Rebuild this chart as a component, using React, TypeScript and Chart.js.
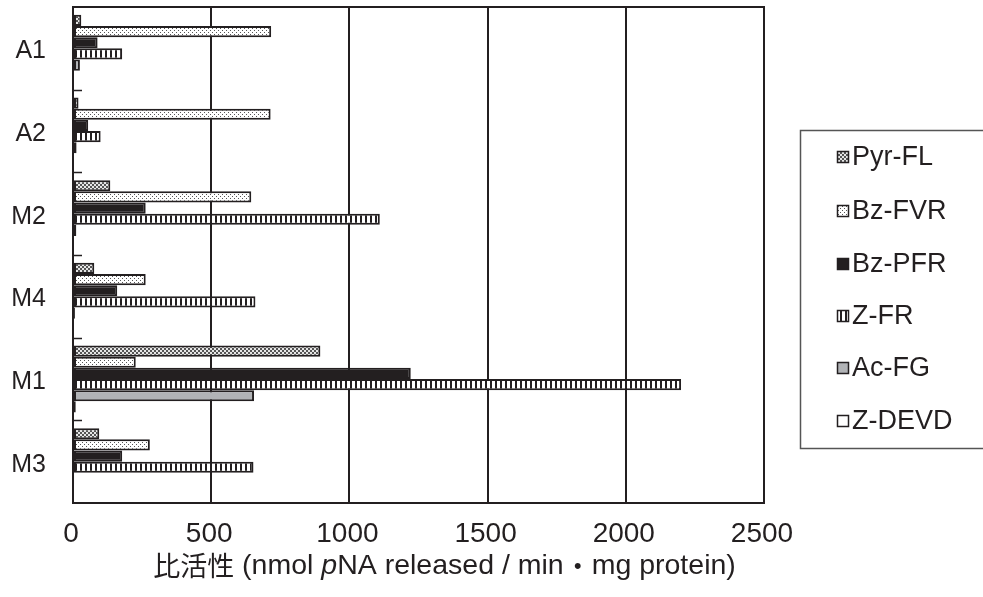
import React, { useEffect, useRef } from "react";
import { Chart, registerables } from "chart.js";

Chart.register(...registerables);

const categories = ["A1", "A2", "M2", "M4", "M1", "M3"];
const seriesNames = ["Pyr-FL", "Bz-FVR", "Bz-PFR", "Z-FR", "Ac-FG", "Z-DEVD"];
const pyrFL = [30, 20, 135, 77, 895, 95];
const bzFVR = [717, 715, 645, 263, 227, 278];
const bzPFR = [89, 55, 263, 160, 1222, 178];
const zFR = [178, 100, 1110, 660, 2200, 653];
const acFG = [25, 13, 12, 7, 655, 4];
const zDEVD = [0, 0, 0, 0, 10, 0];
const xTickValues = [0, 500, 1000, 1500, 2000, 2500];

const INK = "#231f20";
const LATIN = "Arial, 'Liberation Sans', Helvetica, sans-serif";
const CJK = "'Noto Sans CJK JP', 'Noto Sans CJK SC', sans-serif";

function makeTile(kind: string): HTMLCanvasElement {
  const c = document.createElement("canvas");
  const g = c.getContext("2d") as CanvasRenderingContext2D;
  if (kind === "dense") {
    c.width = 4; c.height = 4;
    g.fillStyle = "#e6e6e6"; g.fillRect(0, 0, 4, 4);
    g.fillStyle = "#555555"; g.fillRect(0, 0, 2, 2); g.fillRect(2, 2, 2, 2);
  } else if (kind === "sparse") {
    c.width = 4; c.height = 4;
    g.fillStyle = "#ffffff"; g.fillRect(0, 0, 4, 4);
    g.fillStyle = "#555555"; g.fillRect(0, 0, 1, 1); g.fillRect(2, 2, 1, 1);
  } else {
    c.width = 5; c.height = 5;
    g.fillStyle = "#ffffff"; g.fillRect(0, 0, 5, 5);
    g.fillStyle = INK; g.fillRect(0, 0, 2, 5);
  }
  return c;
}

export default function App() {
  const ref = useRef<HTMLCanvasElement | null>(null);

  useEffect(() => {
    const canvas = ref.current as HTMLCanvasElement;
    const ctx = canvas.getContext("2d") as CanvasRenderingContext2D;
    const pDense = ctx.createPattern(makeTile("dense"), "repeat");
    const pSparse = ctx.createPattern(makeTile("sparse"), "repeat");
    const pStripe = ctx.createPattern(makeTile("stripe"), "repeat");

    const values = [pyrFL, bzFVR, bzPFR, zFR, acFG, zDEVD];
    const fills: any[] = [pDense, pSparse, INK, pStripe, "#b1b3b6", "#ffffff"];

    const frame = {
      id: "frame",
      beforeDatasetsDraw(chart: any) {
        const { ctx: c, chartArea: a } = chart;
        c.save();
        c.strokeStyle = INK;
        c.lineWidth = 2;
        c.strokeRect(a.left, a.top, a.right - a.left, a.bottom - a.top);
        c.restore();
      },
      afterDraw(chart: any) {
        const { ctx: c, chartArea: a } = chart;
        const ys = chart.scales.y;
        c.save();
        c.strokeStyle = INK;
        c.lineWidth = 1.5;
        for (let i = 1; i < categories.length; i++) {
          const yb = Math.round((ys.getPixelForValue(i - 1) + ys.getPixelForValue(i)) / 2) + 0.5;
          c.beginPath();
          c.moveTo(a.left, yb);
          c.lineTo(a.left + 9, yb);
          c.stroke();
        }
        // x axis title
        const segs = [
          { t: "比活性", f: "27px " + CJK },
          { t: " (nmol ", f: "28.5px " + LATIN },
          { t: "p", f: "italic 28.5px " + LATIN },
          { t: "NA released / min", f: "28.5px " + LATIN },
          { t: "・", f: "28px " + CJK },
          { t: "mg protein)", f: "28.5px " + LATIN },
        ];
        let total = 0;
        for (const s of segs) { c.font = s.f; total += c.measureText(s.t).width; }
        let x = 444.5 - total / 2;
        c.fillStyle = INK;
        c.textBaseline = "middle";
        c.textAlign = "left";
        for (const s of segs) {
          c.font = s.f;
          c.fillText(s.t, x, 566);
          x += c.measureText(s.t).width;
        }
        // legend
        const lx = 800, ly = 130, lw = 190, lh = 318;
        c.strokeStyle = "#555";
        c.lineWidth = 1.5;
        c.strokeRect(lx + 0.5, ly + 0.5, lw, lh);
        const itemY = [157, 211, 264, 316, 368, 421];
        c.font = "27px " + LATIN;
        for (let i = 0; i < seriesNames.length; i++) {
          const cy = itemY[i];
          c.fillStyle = fills[i];
          c.fillRect(837, cy - 6, 12, 12);
          c.strokeStyle = INK;
          c.lineWidth = 1.5;
          c.strokeRect(837.5, cy - 5.5, 11, 11);
          c.fillStyle = INK;
          c.fillText(seriesNames[i], 852, cy + 1);
        }
        c.restore();
      },
    };

    const chart = new Chart(canvas, {
      type: "bar",
      data: {
        labels: categories,
        datasets: seriesNames.map((name, i) => ({
          label: name,
          data: values[i],
          backgroundColor: fills[i],
          borderColor: INK,
          borderWidth: 2,
          borderSkipped: false,
          categoryPercentage: 0.81,
          barPercentage: 1.0,
        })),
      },
      options: {
        animation: false,
        responsive: false,
        indexAxis: "y",
        layout: { padding: { top: 7, right: 219, left: 0, bottom: 0 } },
        plugins: { legend: { display: false }, tooltip: { enabled: false } },
        scales: {
          x: {
            min: 0,
            max: 2500,
            afterBuildTicks(s: any) { s.ticks = xTickValues.map((v) => ({ value: v })); },
            ticks: { font: { family: LATIN, size: 28 }, color: INK, padding: 14, labelOffset: -2, callback: (v: any) => String(v) },
            grid: { color: INK, lineWidth: 2, drawTicks: false },
            border: { display: true, color: INK, width: 2 },
            afterFit(s: any) { s.height = 94; s.paddingLeft = 0; s.paddingRight = 0; },
          },
          y: {
            ticks: { font: { family: LATIN, size: 25 }, color: INK, padding: 27, labelOffset: 3 },
            grid: { display: false, drawTicks: false },
            border: { display: true, color: INK, width: 2 },
            afterFit(s: any) { s.width = 73; s.paddingTop = 0; s.paddingBottom = 0; },
          },
        },
      } as any,
      plugins: [frame],
    });
    return () => chart.destroy();
  }, []);

  return (
    <div style={{ position: "fixed", left: 0, top: 0, width: 983, height: 597, background: "#fff" }}>
      <canvas ref={ref} width={983} height={597} style={{ display: "block", width: 983, height: 597 }} />
    </div>
  );
}
